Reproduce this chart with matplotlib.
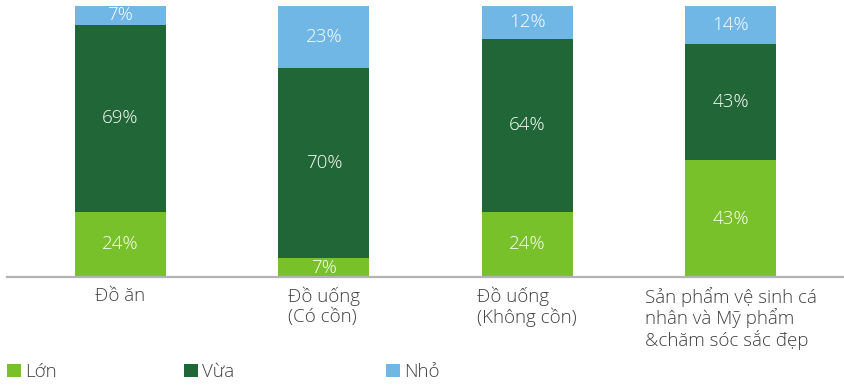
import matplotlib.pyplot as plt
import numpy as np

plt.rcParams['font.family'] = ['Open Sans', 'DejaVu Sans']

categories = ['Đồ ăn', 'Đồ uống\n(Có cồn)', 'Đồ uống\n(Không cồn)',
              'Sản phẩm vệ sinh cá\nnhân và Mỹ phẩm\n&chăm sóc sắc đẹp']
series_names = ['Lớn', 'Vừa', 'Nhỏ']
lon = [24, 7, 24, 43]
vua = [69, 70, 64, 43]
nho = [7, 23, 12, 14]
colors = ['#78c12a', '#206636', '#71b7e6']

fig = plt.figure(figsize=(8.45, 3.85), dpi=100)
ax = fig.add_axes([7 / 845, 108 / 385, 838 / 845, 271 / 385])

x = np.arange(len(categories))
width = 0.447
bottom = np.zeros(len(categories))
bars = []
for vals, name, col in zip([lon, vua, nho], series_names, colors):
    b = ax.bar(x, vals, width, bottom=bottom, color=col, label=name)
    for xi, v, b0 in zip(x, vals, bottom):
        ax.text(xi, b0 + v / 2, f'{v}%', ha='center', va='center',
                color='white', fontsize=13.5, fontweight='light')
    bottom += np.array(vals)
    bars.append(b)

ax.set_xlim(-0.558, 3.563)
ax.set_ylim(0, 100)
ax.set_xticks(x)
ax.set_xticklabels(categories, fontsize=13.5, color='#404040',
                   fontweight='light', multialignment='left', linespacing=1.1)
ax.tick_params(axis='x', length=0, pad=7)
ax.set_yticks([])
for s in ['top', 'right', 'left']:
    ax.spines[s].set_visible(False)
ax.spines['bottom'].set_color('#b3b3b3')
ax.spines['bottom'].set_linewidth(1.6)

# one legend entry per column, placed at fixed x positions
for b, name, xpos in zip(bars, series_names, [7, 184, 386]):
    fig.legend([b], [name], loc='center left',
               bbox_to_anchor=(xpos / 845, 1 - 372 / 385),
               frameon=False, handlelength=0.75, handleheight=0.75,
               handletextpad=0.2, borderpad=0, borderaxespad=0,
               prop={'size': 13.5, 'weight': 'light'}, labelcolor='#404040')

fig.savefig('out.png', dpi=100)
